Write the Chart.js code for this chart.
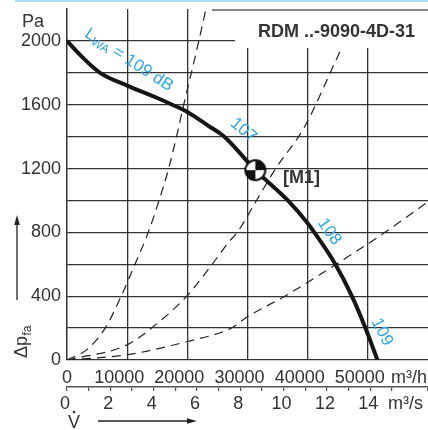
<!DOCTYPE html>
<html><head><meta charset="utf-8">
<script src="https://cdn.jsdelivr.net/npm/chart.js@4.4.1/dist/chart.umd.min.js"></script>
<style>html,body{margin:0;padding:0;background:#fff;}canvas{display:block;}</style>
</head><body>
<canvas id="c" width="428" height="430"></canvas>
<script>
// ---- data ----
// fan curve (m3/h, Pa)
const fanFlow = [0, 2500, 5500, 10000, 15000, 17500, 20000, 23500, 26150, 31300, 36700, 40000, 41100, 44600, 47350, 49600, 51600];
const fanPress = [2000, 1900, 1800, 1720, 1642, 1600, 1555, 1468, 1400, 1190, 1000, 857, 800, 600, 400, 200, 0];
// system curves (dashed)
const sys1Flow = [0, 3300, 6350, 9000, 11300, 13500, 15300, 16900, 18200, 19400, 21300, 23100];
const sys1Press = [0, 65, 200, 400, 600, 800, 1000, 1200, 1400, 1600, 1900, 2200];
const sys2Flow = [0, 10000, 14040, 19900, 24130, 26700, 28300, 31500, 34680, 39400, 45060, 48700];
const sys2Press = [0, 95, 200, 400, 600, 731, 800, 1000, 1200, 1456, 1908, 2200];
const sys3Flow = [0, 10000, 20000, 27300, 30000, 36200, 44740, 52840, 59700, 61000];
const sys3Press = [0, 33, 116, 200, 271, 400, 600, 800, 983, 1015];
// operating point M1
const opFlow = [31300];
const opPress = [1190];
// tick labels
const yTickLabels = [0, 400, 800, 1200, 1600, 2000];
const xTickLabels = [0, 10000, 20000, 30000, 40000, 50000];
const sTickLabels = [0, 2, 4, 6, 8, 10, 12, 14];
const levelLabels = ['107', '108', '109'];
const titleText = 'RDM ..-9090-4D-31';
const opLabel = '[M1]';

// ---- font selection ----
function hasFont(f){
  const c=document.createElement('canvas').getContext('2d');
  c.font='20px monospace'; const a=c.measureText('10000 mWAdB').width;
  c.font='20px '+f+', monospace'; const b=c.measureText('10000 mWAdB').width;
  return a!==b;
}
const NARROW = hasFont('"Liberation Sans Narrow"');
const FAM = NARROW ? '"Liberation Sans Narrow", "Liberation Sans", Arial, sans-serif' : '"Liberation Sans", Arial, sans-serif';
const FS = NARROW ? 20 : 18;
const BFS = NARROW ? 21 : 18;
const TXT = '#333';
const BLUE = '#2aaae2';
const GRID = '#333';

function pts(xs, ys){ return xs.map((x,i)=>({x:x, y:ys[i]})); }

// M1 marker symbol
const mk = document.createElement('canvas'); mk.width=24; mk.height=24;
(function(){
  const g=mk.getContext('2d'); const c=12, r=10;
  g.fillStyle='#fff'; g.beginPath(); g.arc(c,c,r,0,2*Math.PI); g.fill();
  g.fillStyle='#111';
  g.beginPath(); g.moveTo(c,c); g.arc(c,c,r,-Math.PI/2,0); g.closePath(); g.fill();
  g.beginPath(); g.moveTo(c,c); g.arc(c,c,r,Math.PI/2,Math.PI); g.closePath(); g.fill();
  g.strokeStyle='#111'; g.lineWidth=2; g.beginPath(); g.arc(c,c,r,0,2*Math.PI); g.stroke();
})();

function arrow(ctx, x1,y1,x2,y2){
  ctx.save(); ctx.strokeStyle='#222'; ctx.fillStyle='#222'; ctx.lineWidth=1.3;
  const a=Math.atan2(y2-y1,x2-x1);
  ctx.beginPath(); ctx.moveTo(x1,y1); ctx.lineTo(x2-8*Math.cos(a),y2-8*Math.sin(a)); ctx.stroke();
  ctx.beginPath(); ctx.moveTo(x2,y2);
  ctx.lineTo(x2-10*Math.cos(a)+2.8*Math.sin(a), y2-10*Math.sin(a)-2.8*Math.cos(a));
  ctx.lineTo(x2-10*Math.cos(a)-2.8*Math.sin(a), y2-10*Math.sin(a)+2.8*Math.cos(a));
  ctx.closePath(); ctx.fill(); ctx.restore();
}

function noPad(s){ s.paddingLeft=0; s.paddingRight=0; s.paddingTop=0; s.paddingBottom=0; }

const deco = {
  id:'deco',
  afterDatasetsDraw(chart){
    const ctx=chart.ctx, xs=chart.scales.x, ys=chart.scales.y;
    ctx.save();
    // title box
    ctx.fillStyle='#fff'; ctx.fillRect(235, 9, 193, 39);
    ctx.fillStyle='#a9dcf3'; ctx.fillRect(15, 0, 413, 2);
    ctx.strokeStyle='#888'; ctx.lineWidth=2; ctx.beginPath(); ctx.moveTo(212,10); ctx.lineTo(428,10); ctx.stroke();
    ctx.fillStyle=TXT; ctx.font='bold '+BFS+'px '+FAM; ctx.textAlign='right'; ctx.textBaseline='alphabetic';
    ctx.fillText(titleText, 415, 37);
    // operating point label
    ctx.font='bold '+FS+'px '+FAM;
    ctx.textAlign='left'; ctx.textBaseline='middle';
    ctx.fillText(opLabel, 283, 178);
    // "0" of the m3/h axis, centred on the axis origin (other labels sit left of their lines)
    const items = xs.getLabelItems();
    const ref = items.find(it=>it.label==='10000');
    if (ref){
      ctx.font=FS+'px '+FAM; ctx.textAlign='center'; ctx.textBaseline=ref.options.textBaseline;
      ctx.fillText(String(xTickLabels[0]), xs.getPixelForValue(xTickLabels[0]), ref.options.translation[1]+ref.textOffset);
    }
    // axis texts
    ctx.font=FS+'px '+FAM; ctx.textBaseline='alphabetic'; ctx.textAlign='left';
    ctx.fillText('Pa', 22, 27);
    ctx.fillText('m\u00b3/h', 391, 383);
    ctx.fillText('m\u00b3/s', 388, 409);
    // flow symbol V with dot
    ctx.font='18px '+FAM;
    ctx.fillText('V', 68, 428);
    ctx.beginPath(); ctx.arc(74, 412, 1.3, 0, 2*Math.PI); ctx.fill();
    arrow(ctx, 98, 421, 197, 421);
    // pressure label rotated
    ctx.save(); ctx.translate(27, 358); ctx.rotate(-Math.PI/2);
    ctx.font=FS+'px '+FAM; ctx.fillText('\u0394p', 0, 0);
    const w=ctx.measureText('\u0394p').width;
    ctx.font=Math.round(FS*0.68)+'px '+FAM; ctx.fillText('fa', w+0.5, 4);
    ctx.restore();
    arrow(ctx, 17, 300, 17, 215);
    // sound level labels
    ctx.fillStyle=BLUE;
    function rot(txtParts, v, p, deg){
      const px=xs.getPixelForValue(v), py=ys.getPixelForValue(p);
      ctx.save(); ctx.translate(px,py); ctx.rotate(deg*Math.PI/180);
      ctx.textBaseline='middle'; ctx.textAlign='left';
      let tot=0; txtParts.forEach(t=>{ctx.font=t.s+'px '+FAM; tot+=ctx.measureText(t.t).width;});
      let x=-tot/2;
      txtParts.forEach(t=>{ctx.font=t.s+'px '+FAM; ctx.fillText(t.t, x, t.dy||0); x+=ctx.measureText(t.t).width;});
      ctx.restore();
    }
    const bs = NARROW ? 20 : 17;
    rot([{t:'L',s:bs},{t:'WA',s:Math.round(bs*0.7),dy:4},{t:' = 109 dB',s:bs}], 10300, 1880, 33);
    rot([{t:levelLabels[0],s:bs}], 29300, 1440, 40);
    rot([{t:levelLabels[1],s:bs}], 43600, 805, 55);
    rot([{t:levelLabels[2],s:bs}], 52350, 175, 63);
    ctx.restore();
  }
};

const dash = {borderColor:'#222', borderWidth:1.2, borderDash:[9,6], pointRadius:0, cubicInterpolationMode:'monotone', fill:false, order:2};

new Chart(document.getElementById('c'), {
  type:'line',
  data:{datasets:[
    {data:pts(opFlow,opPress), showLine:false, pointStyle:mk, pointRadius:12, order:0},
    {data:pts(fanFlow,fanPress), borderColor:'#161616', borderWidth:4, pointRadius:0, cubicInterpolationMode:'monotone', fill:false, order:1},
    Object.assign({data:pts(sys1Flow,sys1Press)}, dash),
    Object.assign({data:pts(sys2Flow,sys2Press)}, dash),
    Object.assign({data:pts(sys3Flow,sys3Press)}, dash)
  ]},
  options:{
    responsive:false, animation:false, devicePixelRatio:1,
    layout:{autoPadding:false, padding:{top:9,left:0,right:0,bottom:0}},
    plugins:{legend:{display:false}, tooltip:{enabled:false}},
    scales:{
      x:{type:'linear', position:'bottom', weight:0, min:0, max:60000,
        afterFit:s=>{s.height=27; noPad(s);},
        border:{display:false},
        grid:{color:c=>c.tick && c.tick.value>=60000?'rgba(0,0,0,0)':GRID, lineWidth:1.3, drawTicks:false},
        ticks:{stepSize:10000, autoSkip:false, maxRotation:0, padding:7, labelOffset:-8, color:TXT, font:{family:FAM,size:FS},
          callback:v=>(v>0 && xTickLabels.includes(v))?String(v):''}},
      x2:{type:'linear', position:'bottom', weight:1, min:0, max:60000/3600,
        afterFit:s=>{s.height=43; noPad(s);},
        border:{display:true, color:'#555', width:1.5},
        grid:{drawOnChartArea:false, drawTicks:true, tickLength:4, color:'#555', lineWidth:1.2},
        ticks:{stepSize:1, autoSkip:false, maxRotation:0, padding:2, labelOffset:-2, color:TXT, font:{family:FAM,size:FS},
          callback:v=>sTickLabels.includes(v)?String(v):''}},
      y:{type:'linear', min:0, max:2200,
        afterFit:s=>{s.width=67; noPad(s);},
        border:{display:true, color:GRID, width:1.3},
        grid:{color:c=>c.tick && c.tick.value>=2200?'rgba(0,0,0,0)':GRID, lineWidth:1.3, drawTicks:false},
        ticks:{stepSize:200, autoSkip:false, padding:6, color:TXT, font:{family:FAM,size:FS},
          callback:v=>yTickLabels.includes(v)?String(v):''}}
    }
  },
  plugins:[deco]
});
</script>
</body></html>
